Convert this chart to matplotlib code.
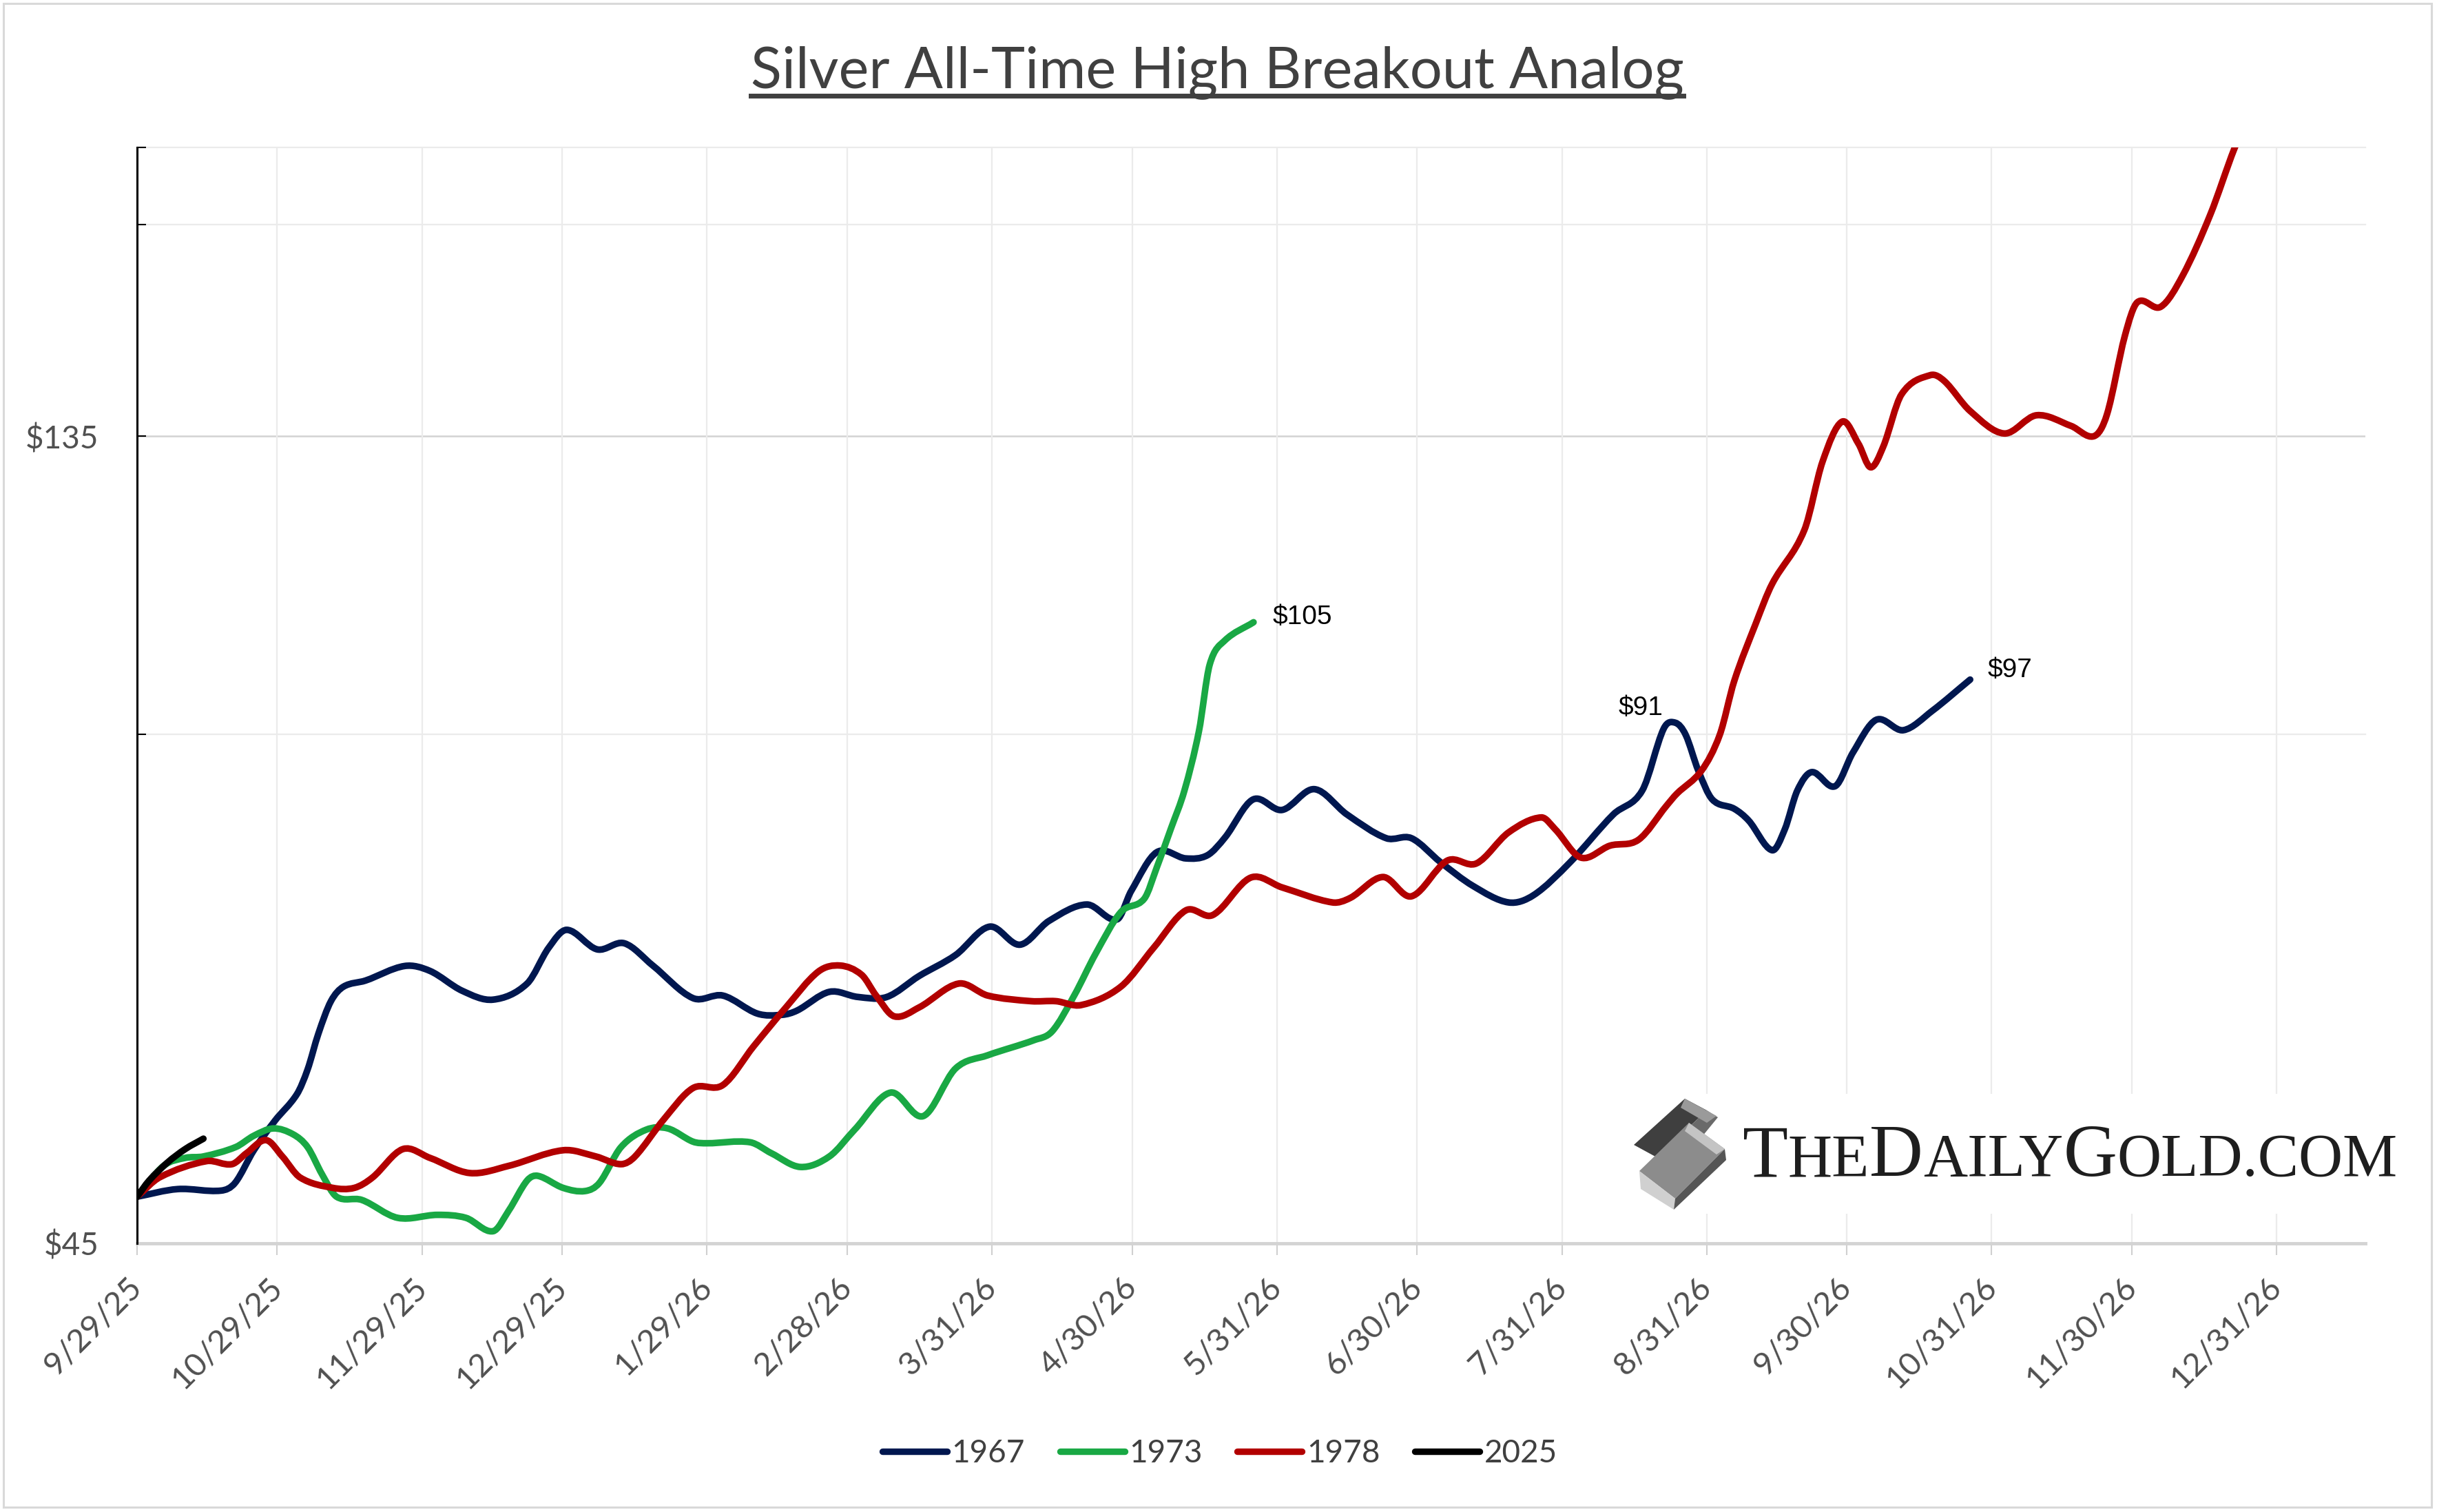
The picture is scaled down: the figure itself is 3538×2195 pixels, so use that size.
import numpy as np
import pandas as pd
import matplotlib
matplotlib.use("Agg")
import matplotlib.pyplot as plt
from matplotlib.path import Path
from matplotlib.patches import PathPatch, Polygon, Rectangle
from matplotlib.lines import Line2D
import matplotlib.ticker as mticker

# ---------------- data ----------------
title = "Silver All-Time High Breakout Analog"
start_date = "2025-09-29"
tick_labels = ["9/29/25", "10/29/25", "11/29/25", "12/29/25", "1/29/26", "2/28/26",
               "3/31/26", "4/30/26", "5/31/26", "6/30/26", "7/31/26", "8/31/26",
               "9/30/26", "10/31/26", "11/30/26", "12/31/26"]
y_ticks = [45, 90, 135, 180, 200]
y_tick_labels = ["$45", "", "$135", "", ""]
series_names = ["1967", "1973", "1978", "2025"]

# day offsets from start_date, and price
d1967 = [0, 8.7, 18, 21, 25, 29.5, 34.2, 36.5, 38.8, 41.5, 44.2, 48.9, 57.3, 62.7, 69.6, 76.2,
         83.5, 88.1, 92, 98.5, 104.3, 110.4, 119, 125.4, 132.8, 138.1, 141.3, 148.2, 154.3,
         160.5, 167.4, 175.2, 182.5, 189, 195.2, 203.3, 209.8, 212.8, 218.3, 224.5, 229.1,
         232.9, 238.9, 245.1, 252, 259, 267.4, 272.8, 279, 286, 293.6, 299, 306.8, 316,
         322.2, 326.8, 329.3, 331.5, 334.2, 337.2, 341.9, 345, 350, 352.7, 355.4, 358.5,
         363.5, 367.3, 372.3, 378.1, 384.3, 392.4]
v1967 = [47.95, 48.45, 48.35, 48.87, 51.08, 53.17, 55.12, 57.01, 59.85, 62.57, 63.82, 64.35,
         65.64, 65.20, 63.46, 62.70, 64.09, 67.28, 68.95, 67.14, 67.70, 65.68, 62.83, 63.05,
         61.52, 61.42, 61.78, 63.37, 62.93, 62.93, 64.75, 66.62, 69.25, 67.57, 69.79, 71.37,
         69.94, 72.69, 76.64, 75.99, 76.31, 78.19, 82.34, 81.17, 83.50, 80.67, 78.11, 78.11,
         75.61, 73.19, 71.57, 72.30, 75.61, 80.67, 83.34, 90.67, 91.40, 89.91, 85.64, 82.34,
         81.30, 80.00, 76.84, 79.03, 83.34, 85.46, 83.84, 87.76, 91.77, 90.48, 92.90, 96.93]

d1973 = [0, 5.7, 10.3, 14.2, 21.1, 25, 29.2, 33.4, 36.5, 39.6, 42.7, 48.1, 55.8, 64.3, 70.4,
         76.2, 79.6, 83.5, 85.8, 91.2, 95.9, 99, 103.6, 109, 113.6, 119, 122, 131.2, 135.8,
         142, 148.2, 153.6, 161.3, 168.3, 175.2, 182.1, 192.1, 195.9, 200.6, 205.2, 210.6,
         215.6, 218.3, 221.4, 224.2, 227.3, 229.6, 232.8, 239]
v1973 = [47.95, 50.01, 50.55, 50.65, 51.30, 52.10, 52.62, 52.20, 51.30, 49.43, 47.95, 47.74,
         46.59, 46.78, 46.59, 45.75, 47.07, 49.02, 49.33, 48.53, 48.32, 48.87, 51.30, 52.53,
         52.62, 51.68, 51.57, 51.64, 50.87, 49.93, 50.65, 52.53, 55.25, 53.51, 57.09, 58.13,
         59.35, 60.06, 63.05, 66.75, 70.64, 71.93, 75.08, 79.26, 83.34, 90.33, 98.9, 102.2,
         104.8]

d1978 = [0, 4.9, 14.9, 20.3, 23.4, 27.6, 31.1, 34.9, 41.9, 46.5, 50.4, 56.9, 62.7, 71.2, 79.6,
         91.2, 98.2, 103.6, 106.6, 112.8, 119, 125.4, 132, 138.9, 145.8, 150.5, 155.1, 158.2,
         162.1, 167.4, 175.9, 182.1, 191.4, 196.7, 202.1, 210.6, 217.6, 224.5, 230.3, 238.4,
         245.1, 255.9, 259.7, 266.7, 272.8, 280.5, 286.7, 293.6, 300.6, 303.6, 309.1, 315.3,
         321.4, 327.4, 329.6, 334.9, 338.8, 341.9, 346.5, 350, 356.9, 360.8, 365, 368.5,
         371.1, 373.8, 377.7, 383.9, 386.9, 392.4, 399.7, 406.6, 414, 418.9, 421.7, 425.5,
         428.2, 433.2, 437.9, 443.8, 449, 452]
v1978 = [47.95, 49.24, 50.33, 50.12, 50.87, 51.79, 50.65, 49.22, 48.53, 48.53, 49.22, 51.16,
         50.55, 49.52, 50.01, 51.08, 50.65, 50.12, 50.65, 53.29, 55.59, 55.82, 58.85, 62.04,
         65.13, 65.68, 64.86, 63.05, 61.29, 62.04, 64.09, 63.05, 62.57, 62.57, 62.24, 63.82,
         67.28, 70.80, 70.36, 74.03, 73.05, 71.57, 72.01, 74.09, 72.17, 75.77, 75.47, 78.73,
         80.35, 79.05, 76.07, 77.32, 77.94, 81.64, 82.98, 85.64, 89.91, 96.75, 104.6, 110.4,
         118.8, 130.4, 137.7, 133.6, 129.4, 133.1, 142.9, 146.7, 145.5, 139.7, 135.5, 138.9,
         136.9, 135.0, 139.1, 154.7, 162.0, 161.0, 168.0, 182.5, 199.8, 208]

d2025 = [0, 2.6, 6.5, 10.3, 14.2]
v2025 = [47.95, 49.02, 50.23, 51.16, 51.89]

# annotated points: (series, label, day of point)
annotations = [("1973", "$105", 239), ("1967", "$91", 329.3), ("1967", "$97", 392.4)]

# ---------------- styling ----------------
W, H = 3538, 2195
colors = {"1967": "#00174f", "1973": "#19a844", "1978": "#b20000", "2025": "#000000"}
LW = 6.9
label_font = ["Lato", "DejaVu Sans"]
gray_txt = "#505050"

fig = plt.figure(figsize=(W / 100, H / 100), dpi=100)
fig.patch.set_facecolor("white")
ax = fig.add_axes([199 / W, 1 - 1805 / H, (3434 - 199) / W, (1805 - 214) / H])

start = pd.Timestamp(start_date)
tick_days = [(pd.to_datetime(t, format="%m/%d/%y") - start).days for t in tick_labels]

ax.set_yscale("log")
ax.set_ylim(45, 200)
ax.set_xlim(0, 477)


def smooth_path(xs, ys):
    x = np.asarray(xs, float)
    ly = np.log(np.asarray(ys, float))
    n = len(x)
    s = np.zeros(n)
    for i in range(n):
        a = max(i - 1, 0)
        b = min(i + 1, n - 1)
        s[i] = (ly[b] - ly[a]) / (x[b] - x[a])
    verts = [(x[0], np.exp(ly[0]))]
    codes = [Path.MOVETO]
    for i in range(n - 1):
        dx = x[i + 1] - x[i]
        c1 = (x[i] + dx / 3, np.exp(ly[i] + s[i] * dx / 3))
        c2 = (x[i + 1] - dx / 3, np.exp(ly[i + 1] - s[i + 1] * dx / 3))
        verts += [c1, c2, (x[i + 1], np.exp(ly[i + 1]))]
        codes += [Path.CURVE4] * 3
    return Path(verts, codes)


data = {"1967": (d1967, v1967), "1973": (d1973, v1973),
        "1978": (d1978, v1978), "2025": (d2025, v2025)}
for z, name in enumerate(series_names):
    dd, vv = data[name]
    patch = PathPatch(smooth_path(dd, vv), fill=False, edgecolor=colors[name], lw=LW,
                      capstyle="round", joinstyle="round", zorder=3 + z,
                      transform=ax.transData)
    ax.add_patch(patch)

# grid
ax.set_xticks(tick_days)
ax.set_xticklabels(tick_labels, rotation=45, ha="right", va="center",
                   rotation_mode="anchor", fontsize=34, color=gray_txt, family=label_font)
ax.xaxis.grid(True, color="#ebebeb", lw=1.6, zorder=0)
for yv in [90, 180, 200]:
    ax.axhline(yv, color="#ebebeb", lw=1.6, zorder=0.5, clip_on=False)
ax.axhline(135, color="#d2d2d2", lw=1.8, zorder=0.6)

ax.yaxis.set_major_locator(mticker.FixedLocator(y_ticks))
ax.yaxis.set_major_formatter(mticker.FixedFormatter(y_tick_labels))
ax.yaxis.set_minor_locator(mticker.NullLocator())
ax.yaxis.set_minor_formatter(mticker.NullFormatter())
for lab in ax.get_yticklabels():
    lab.set_fontsize(33)
    lab.set_color(gray_txt)
    lab.set_family(label_font)

ax.tick_params(axis="y", direction="in", length=9, width=1.5, color="black", pad=40)
ax.tick_params(axis="x", direction="out", length=12, width=1.5, color="#d0d0d0", pad=29)

for sp in ["top", "right"]:
    ax.spines[sp].set_visible(False)
ax.spines["left"].set_color("black")
ax.spines["left"].set_linewidth(2.2)
ax.spines["left"].set_zorder(10)
ax.spines["bottom"].set_color("#d3d3d3")
ax.spines["bottom"].set_linewidth(3.5)

# annotations
ann_font = ["Liberation Sans", "DejaVu Sans"]
ann_offsets = {"$105": (28, 7, "left"), "$91": (-50, 21, "center"), "$97": (25, 14, "left")}
for sname, text, day in annotations:
    dd, vv = data[sname]
    idx = int(np.argmin(np.abs(np.asarray(dd) - day)))
    dx, dy, ha = ann_offsets[text]
    ax.annotate(text, xy=(dd[idx], vv[idx]), xytext=(dx, dy), textcoords="offset pixels",
                ha=ha, va="center", fontsize=28, family=ann_font, color="black", zorder=10)

# legend
handles = [Line2D([], [], color=colors[n], lw=6.8, solid_capstyle="round") for n in series_names]
leg = fig.legend(handles, series_names, loc="center", bbox_to_anchor=(1771 / W, 1 - 2110 / H),
                 ncol=4, frameon=False, handlelength=2.05, handletextpad=0.15,
                 columnspacing=1.1, prop={"family": label_font, "size": 33})
for t in leg.get_texts():
    t.set_color("#404040")

renderer = fig.canvas.get_renderer()

# title with underline, fitted to the reference width
ttl = fig.text(1767 / W, 1 - 127 / H, title, ha="center", va="baseline",
               fontsize=60, family=label_font, color="#404040")
wpx = ttl.get_window_extent(renderer).width
ttl.set_fontsize(60 * 1356 / wpx)
bb = ttl.get_window_extent(renderer)
fig.add_artist(Line2D([bb.x0 / W, bb.x1 / W], [1 - 138.5 / H, 1 - 138.5 / H],
                      transform=fig.transFigure, color="#404040", lw=5))

# white box behind the logo
fig.add_artist(Rectangle((2350 / W, 1 - 1762 / H), (3495 - 2350) / W, (1762 - 1588) / H,
                         transform=fig.transFigure, facecolor="white", edgecolor="none",
                         zorder=1))

# logo icon (stacked silver bars, tilted)
def fpoly(pts, fc, z=2):
    fig.add_artist(Polygon([(x / W, 1 - y / H) for x, y in pts], closed=True,
                           transform=fig.transFigure, facecolor=fc, edgecolor="none", zorder=z))

fpoly([(2372, 1662), (2446, 1595), (2478, 1612), (2405, 1680)], "#3f3f3f")
fpoly([(2446, 1595), (2492, 1620), (2478, 1630), (2440, 1608)], "#9a9a9a", z=2.05)
fpoly([(2478, 1612), (2494, 1622), (2430, 1700), (2405, 1680)], "#6a6a6a")
fpoly([(2380, 1700), (2452, 1630), (2504, 1668), (2432, 1740)], "#8c8c8c")
fpoly([(2452, 1630), (2504, 1668), (2492, 1676), (2446, 1642)], "#c4c4c4", z=2.1)
fpoly([(2380, 1700), (2432, 1740), (2430, 1756), (2382, 1726)], "#d0d0d0")
fpoly([(2432, 1740), (2504, 1668), (2506, 1684), (2430, 1756)], "#555555")

# logo text in small caps
pieces = [("T", True), ("HE", False), ("D", True), ("AILY", False), ("G", True), ("OLD.COM", False)]
logo_font = ["Liberation Serif", "DejaVu Serif"]


def build_logo(scale):
    objs = []
    x = 2530
    for s, big in pieces:
        t = fig.text(x / W, 1 - 1707 / H, s, fontsize=(68 if big else 56) * scale,
                     family=logo_font, color="#1e1e1e", ha="left", va="baseline", zorder=3)
        x += t.get_window_extent(renderer).width
        objs.append(t)
    return objs, x - 2530


objs, total = build_logo(1.0)
for o in objs:
    o.remove()
build_logo(951 / total)

# chart border
fig.add_artist(Rectangle((5 / W, 1 - 2188 / H), (3530 - 5) / W, (2188 - 5) / H,
                         transform=fig.transFigure, fill=False, edgecolor="#d9d9d9", lw=2.2))

fig.savefig("out.png", dpi=100, facecolor="white")
